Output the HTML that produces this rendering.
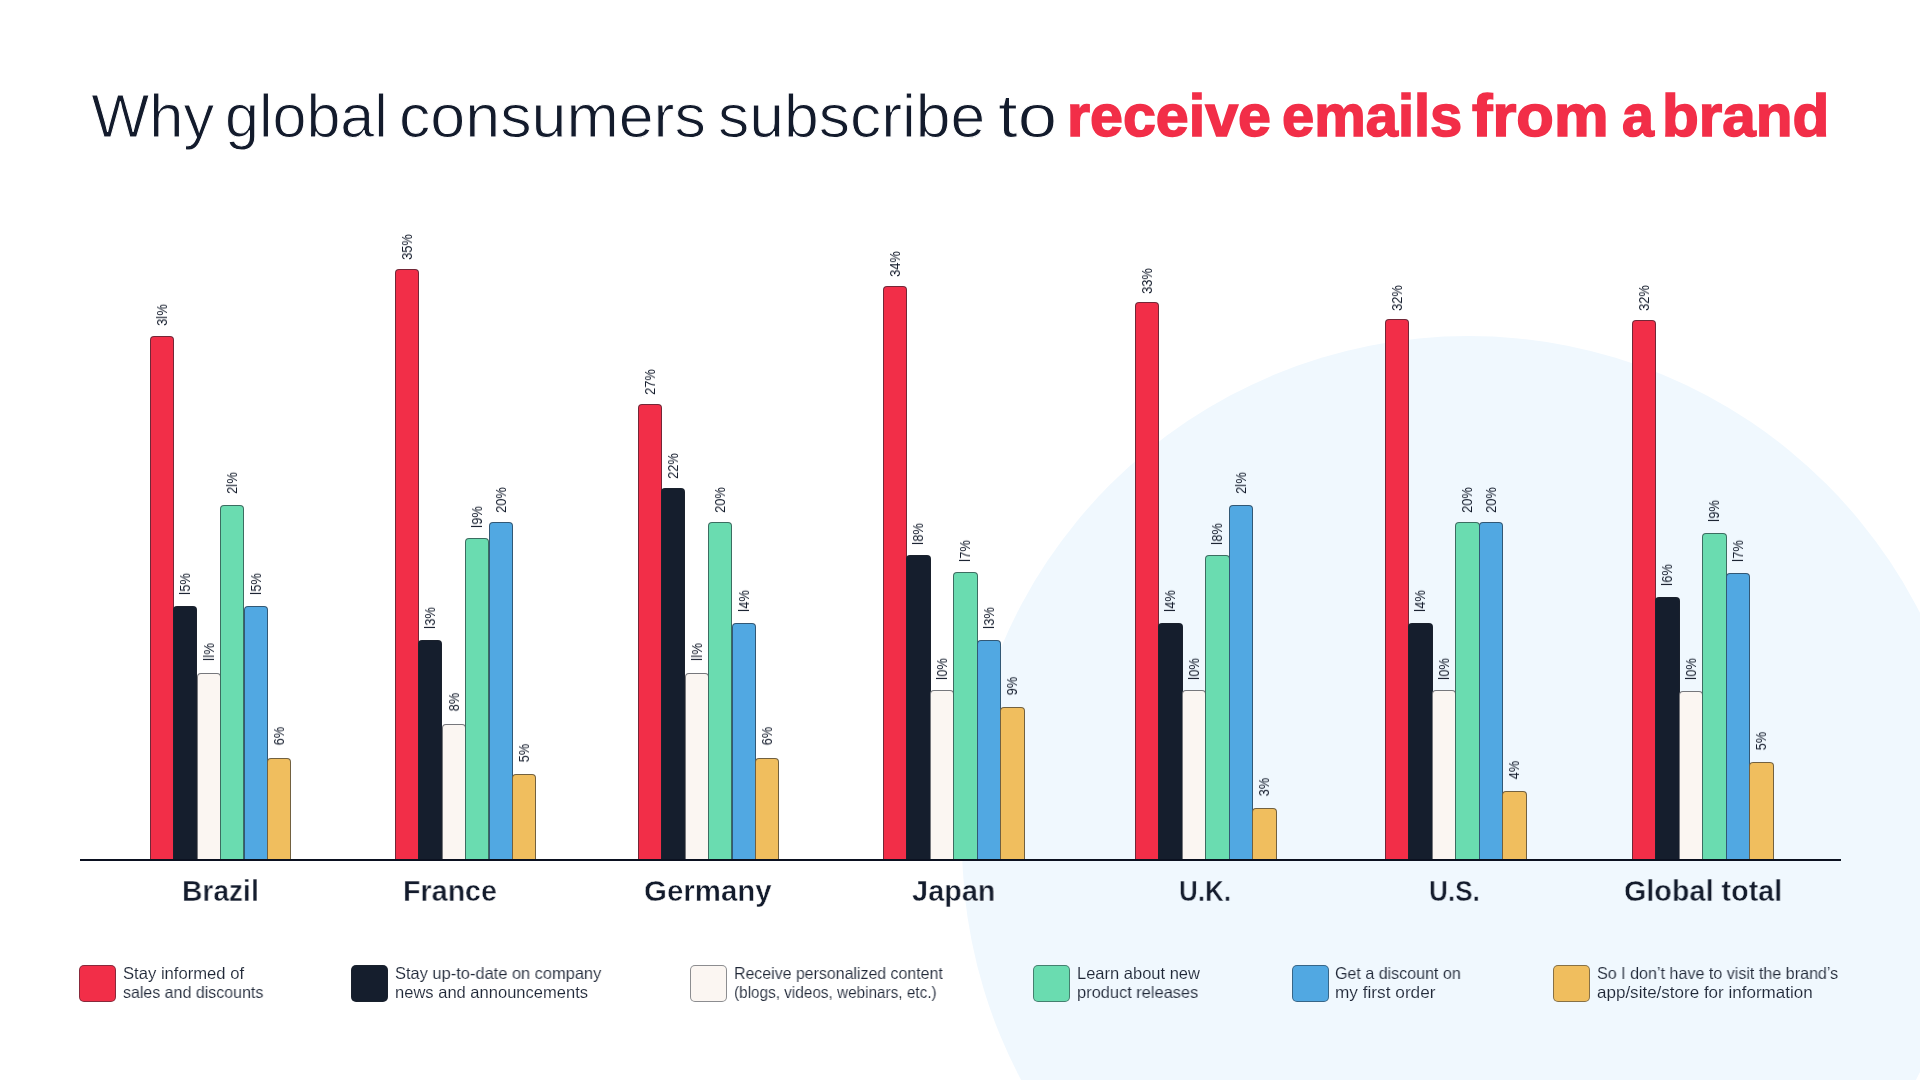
<!DOCTYPE html>
<html><head><meta charset="utf-8"><style>
html,body{margin:0;padding:0;}
body{width:1920px;height:1080px;position:relative;overflow:hidden;background:#fff;font-family:"Liberation Sans",sans-serif;}
.lt,.cn,.lbl{will-change:transform;}
.circle{position:absolute;left:961.5px;top:335.8px;width:1013.6px;height:1013.6px;border-radius:50%;background:#f0f8fe;}
.title{position:absolute;top:75px;white-space:nowrap;font-size:60px;line-height:80px;transform-origin:0 0;}
.t1{color:#131b2c;-webkit-text-stroke:1px #fff;font-size:61.5px;top:76px;}
.t2{color:#f22e48;font-weight:bold;-webkit-text-stroke:1.6px #f22e48;top:75.5px;}
.axis{position:absolute;left:80px;top:858.75px;width:1761px;height:2px;background:#0b1120;}
.bar{position:absolute;box-sizing:border-box;border:1px solid rgba(30,35,45,0.6);border-bottom:none;border-radius:4px 4px 0 0;}
.lw{position:absolute;width:0;height:0;}
.lbl i{font-style:normal;letter-spacing:0.4px;}
.lbl{position:absolute;left:0;top:0;white-space:nowrap;font-size:14px;line-height:14px;color:#141c2c;transform:translate(-50%,-50%) rotate(-90deg) scaleX(0.92);}
.cn{position:absolute;top:875.3px;transform-origin:0 0;white-space:nowrap;font-size:29px;font-weight:bold;color:#131b2c;}
.sw{position:absolute;top:965.2px;width:36.5px;height:36.5px;box-sizing:border-box;border:1.6px solid rgba(30,35,45,0.5);border-radius:5px;}
.lt{position:absolute;font-size:16.5px;line-height:19.15px;color:#1f2737;white-space:nowrap;transform-origin:0 0;}
</style></head><body>
<div class="circle"></div>
<div class="title t1" style="left:91.30px;transform:scaleX(1.0000)">Why</div><div class="title t1" style="left:225.32px;transform:scaleX(0.9917)">global</div><div class="title t1" style="left:398.94px;transform:scaleX(1.0203)">consumers</div><div class="title t1" style="left:717.97px;transform:scaleX(1.0155)">subscribe</div><div class="title t1" style="left:997.85px;transform:scaleX(1.1489)">to</div><div class="title t2" style="left:1067.24px;transform:scaleX(0.9862)">receive</div><div class="title t2" style="left:1281.63px;transform:scaleX(0.9652)">emails</div><div class="title t2" style="left:1472.30px;transform:scaleX(1.0237)">from</div><div class="title t2" style="left:1621.74px;transform:scaleX(0.9559)">a</div><div class="title t2" style="left:1662.29px;transform:scaleX(1.0043)">brand</div>
<div class="bar" style="left:149.60px;top:336.09px;width:24.30px;height:522.66px;background:#f22e48"></div><div class="bar" style="left:173.10px;top:605.85px;width:24.30px;height:252.90px;background:#151e2d"></div><div class="bar" style="left:196.60px;top:673.29px;width:24.30px;height:185.46px;background:#fbf6f2"></div><div class="bar" style="left:220.10px;top:504.69px;width:24.30px;height:354.06px;background:#6adcb0"></div><div class="bar" style="left:243.60px;top:605.85px;width:24.30px;height:252.90px;background:#51a8e2"></div><div class="bar" style="left:267.10px;top:757.59px;width:24.30px;height:101.16px;background:#f0be5e"></div><div class="bar" style="left:394.60px;top:268.65px;width:24.30px;height:590.10px;background:#f22e48"></div><div class="bar" style="left:418.10px;top:639.57px;width:24.30px;height:219.18px;background:#151e2d"></div><div class="bar" style="left:441.60px;top:723.87px;width:24.30px;height:134.88px;background:#fbf6f2"></div><div class="bar" style="left:465.10px;top:538.41px;width:24.30px;height:320.34px;background:#6adcb0"></div><div class="bar" style="left:488.60px;top:521.55px;width:24.30px;height:337.20px;background:#51a8e2"></div><div class="bar" style="left:512.10px;top:774.45px;width:24.30px;height:84.30px;background:#f0be5e"></div><div class="bar" style="left:637.70px;top:403.53px;width:24.30px;height:455.22px;background:#f22e48"></div><div class="bar" style="left:661.20px;top:487.83px;width:24.30px;height:370.92px;background:#151e2d"></div><div class="bar" style="left:684.70px;top:673.29px;width:24.30px;height:185.46px;background:#fbf6f2"></div><div class="bar" style="left:708.20px;top:521.55px;width:24.30px;height:337.20px;background:#6adcb0"></div><div class="bar" style="left:731.70px;top:622.71px;width:24.30px;height:236.04px;background:#51a8e2"></div><div class="bar" style="left:755.20px;top:757.59px;width:24.30px;height:101.16px;background:#f0be5e"></div><div class="bar" style="left:882.90px;top:285.51px;width:24.30px;height:573.24px;background:#f22e48"></div><div class="bar" style="left:906.40px;top:555.27px;width:24.30px;height:303.48px;background:#151e2d"></div><div class="bar" style="left:929.90px;top:690.15px;width:24.30px;height:168.60px;background:#fbf6f2"></div><div class="bar" style="left:953.40px;top:572.13px;width:24.30px;height:286.62px;background:#6adcb0"></div><div class="bar" style="left:976.90px;top:639.57px;width:24.30px;height:219.18px;background:#51a8e2"></div><div class="bar" style="left:1000.40px;top:707.01px;width:24.30px;height:151.74px;background:#f0be5e"></div><div class="bar" style="left:1134.80px;top:302.37px;width:24.30px;height:556.38px;background:#f22e48"></div><div class="bar" style="left:1158.30px;top:622.71px;width:24.30px;height:236.04px;background:#151e2d"></div><div class="bar" style="left:1181.80px;top:690.15px;width:24.30px;height:168.60px;background:#fbf6f2"></div><div class="bar" style="left:1205.30px;top:555.27px;width:24.30px;height:303.48px;background:#6adcb0"></div><div class="bar" style="left:1228.80px;top:504.69px;width:24.30px;height:354.06px;background:#51a8e2"></div><div class="bar" style="left:1252.30px;top:808.17px;width:24.30px;height:50.58px;background:#f0be5e"></div><div class="bar" style="left:1384.80px;top:319.23px;width:24.30px;height:539.52px;background:#f22e48"></div><div class="bar" style="left:1408.30px;top:622.71px;width:24.30px;height:236.04px;background:#151e2d"></div><div class="bar" style="left:1431.80px;top:690.15px;width:24.30px;height:168.60px;background:#fbf6f2"></div><div class="bar" style="left:1455.30px;top:521.55px;width:24.30px;height:337.20px;background:#6adcb0"></div><div class="bar" style="left:1478.80px;top:521.55px;width:24.30px;height:337.20px;background:#51a8e2"></div><div class="bar" style="left:1502.30px;top:791.31px;width:24.30px;height:67.44px;background:#f0be5e"></div><div class="bar" style="left:1631.90px;top:319.60px;width:24.30px;height:539.15px;background:#f22e48"></div><div class="bar" style="left:1655.40px;top:596.70px;width:24.30px;height:262.05px;background:#151e2d"></div><div class="bar" style="left:1678.90px;top:690.70px;width:24.30px;height:168.05px;background:#fbf6f2"></div><div class="bar" style="left:1702.40px;top:532.50px;width:24.30px;height:326.25px;background:#6adcb0"></div><div class="bar" style="left:1725.90px;top:572.50px;width:24.30px;height:286.25px;background:#51a8e2"></div><div class="bar" style="left:1749.40px;top:762.00px;width:24.30px;height:96.75px;background:#f0be5e"></div>
<div class="axis"></div>
<div class="lw" style="left:161.55px;top:314.59px"><span class="lbl">3<i>l</i>%</span></div><div class="lw" style="left:185.05px;top:584.35px"><span class="lbl"><i>l</i>5%</span></div><div class="lw" style="left:208.55px;top:651.79px"><span class="lbl"><i>l</i><i>l</i>%</span></div><div class="lw" style="left:232.05px;top:483.19px"><span class="lbl">2<i>l</i>%</span></div><div class="lw" style="left:255.55px;top:584.35px"><span class="lbl"><i>l</i>5%</span></div><div class="lw" style="left:279.05px;top:736.09px"><span class="lbl">6%</span></div><div class="lw" style="left:406.55px;top:247.15px"><span class="lbl">35%</span></div><div class="lw" style="left:430.05px;top:618.07px"><span class="lbl"><i>l</i>3%</span></div><div class="lw" style="left:453.55px;top:702.37px"><span class="lbl">8%</span></div><div class="lw" style="left:477.05px;top:516.91px"><span class="lbl"><i>l</i>9%</span></div><div class="lw" style="left:500.55px;top:500.05px"><span class="lbl">20%</span></div><div class="lw" style="left:524.05px;top:752.95px"><span class="lbl">5%</span></div><div class="lw" style="left:649.65px;top:382.03px"><span class="lbl">27%</span></div><div class="lw" style="left:673.15px;top:466.33px"><span class="lbl">22%</span></div><div class="lw" style="left:696.65px;top:651.79px"><span class="lbl"><i>l</i><i>l</i>%</span></div><div class="lw" style="left:720.15px;top:500.05px"><span class="lbl">20%</span></div><div class="lw" style="left:743.65px;top:601.21px"><span class="lbl"><i>l</i>4%</span></div><div class="lw" style="left:767.15px;top:736.09px"><span class="lbl">6%</span></div><div class="lw" style="left:894.85px;top:264.01px"><span class="lbl">34%</span></div><div class="lw" style="left:918.35px;top:533.77px"><span class="lbl"><i>l</i>8%</span></div><div class="lw" style="left:941.85px;top:668.65px"><span class="lbl"><i>l</i>0%</span></div><div class="lw" style="left:965.35px;top:550.63px"><span class="lbl"><i>l</i>7%</span></div><div class="lw" style="left:988.85px;top:618.07px"><span class="lbl"><i>l</i>3%</span></div><div class="lw" style="left:1012.35px;top:685.51px"><span class="lbl">9%</span></div><div class="lw" style="left:1146.75px;top:280.87px"><span class="lbl">33%</span></div><div class="lw" style="left:1170.25px;top:601.21px"><span class="lbl"><i>l</i>4%</span></div><div class="lw" style="left:1193.75px;top:668.65px"><span class="lbl"><i>l</i>0%</span></div><div class="lw" style="left:1217.25px;top:533.77px"><span class="lbl"><i>l</i>8%</span></div><div class="lw" style="left:1240.75px;top:483.19px"><span class="lbl">2<i>l</i>%</span></div><div class="lw" style="left:1264.25px;top:786.67px"><span class="lbl">3%</span></div><div class="lw" style="left:1396.75px;top:297.73px"><span class="lbl">32%</span></div><div class="lw" style="left:1420.25px;top:601.21px"><span class="lbl"><i>l</i>4%</span></div><div class="lw" style="left:1443.75px;top:668.65px"><span class="lbl"><i>l</i>0%</span></div><div class="lw" style="left:1467.25px;top:500.05px"><span class="lbl">20%</span></div><div class="lw" style="left:1490.75px;top:500.05px"><span class="lbl">20%</span></div><div class="lw" style="left:1514.25px;top:769.81px"><span class="lbl">4%</span></div><div class="lw" style="left:1643.85px;top:298.10px"><span class="lbl">32%</span></div><div class="lw" style="left:1667.35px;top:575.20px"><span class="lbl"><i>l</i>6%</span></div><div class="lw" style="left:1690.85px;top:669.20px"><span class="lbl"><i>l</i>0%</span></div><div class="lw" style="left:1714.35px;top:511.00px"><span class="lbl"><i>l</i>9%</span></div><div class="lw" style="left:1737.85px;top:551.00px"><span class="lbl"><i>l</i>7%</span></div><div class="lw" style="left:1761.35px;top:740.50px"><span class="lbl">5%</span></div>
<div class="cn" style="left:182.06px;transform:scaleX(0.9720);-webkit-text-stroke:0.45px #fff">Brazil</div><div class="cn" style="left:403.23px;transform:scaleX(0.9870);-webkit-text-stroke:0.45px #fff">France</div><div class="cn" style="left:643.68px;transform:scaleX(1.0152);-webkit-text-stroke:0.45px #fff">Germany</div><div class="cn" style="left:912.10px;transform:scaleX(0.9957);-webkit-text-stroke:0.45px #fff">Japan</div><div class="cn" style="left:1179.46px;transform:scaleX(0.8972);-webkit-text-stroke:0.45px #f0f8fe">U.K.</div><div class="cn" style="left:1429.20px;transform:scaleX(0.9009);-webkit-text-stroke:0.45px #f0f8fe">U.S.</div><div class="cn" style="left:1623.66px;transform:scaleX(0.9914);-webkit-text-stroke:0.45px #f0f8fe">Global total</div>
<div class="sw" style="left:79.4px;background:#f22e48"></div><div class="lt" style="left:122.89px;top:964.00px;transform:scaleX(1.0076);-webkit-text-stroke:0.1px #fff">Stay informed of</div><div class="lt" style="left:122.93px;top:983.15px;transform:scaleX(0.9681);-webkit-text-stroke:0.1px #fff">sales and discounts</div><div class="sw" style="left:351.4px;background:#151e2d"></div><div class="lt" style="left:394.70px;top:964.00px;transform:scaleX(0.9956);-webkit-text-stroke:0.1px #fff">Stay up-to-date on company</div><div class="lt" style="left:394.70px;top:983.15px;transform:scaleX(1.0021);-webkit-text-stroke:0.1px #fff">news and announcements</div><div class="sw" style="left:690.4px;background:#fbf6f2"></div><div class="lt" style="left:734.14px;top:964.00px;transform:scaleX(0.9644);-webkit-text-stroke:0.1px #fff">Receive personalized content</div><div class="lt" style="left:734.17px;top:983.15px;transform:scaleX(0.9282);-webkit-text-stroke:0.1px #fff">(blogs, videos, webinars, etc.)</div><div class="sw" style="left:1033.4px;background:#6adcb0"></div><div class="lt" style="left:1076.80px;top:964.00px;transform:scaleX(0.9975);-webkit-text-stroke:0.1px #f0f8fe">Learn about new</div><div class="lt" style="left:1076.81px;top:983.15px;transform:scaleX(0.9942);-webkit-text-stroke:0.1px #f0f8fe">product releases</div><div class="sw" style="left:1292.4px;background:#51a8e2"></div><div class="lt" style="left:1334.93px;top:964.00px;transform:scaleX(0.9719);-webkit-text-stroke:0.1px #f0f8fe">Get a discount on</div><div class="lt" style="left:1334.86px;top:983.15px;transform:scaleX(1.0442);-webkit-text-stroke:0.1px #f0f8fe">my first order</div><div class="sw" style="left:1553.4px;background:#f0be5e"></div><div class="lt" style="left:1596.92px;top:964.00px;transform:scaleX(0.9752);-webkit-text-stroke:0.1px #f0f8fe">So I don’t have to visit the brand’s</div><div class="lt" style="left:1596.87px;top:983.15px;transform:scaleX(1.0314);-webkit-text-stroke:0.1px #f0f8fe">app/site/store for information</div>
</body></html>
